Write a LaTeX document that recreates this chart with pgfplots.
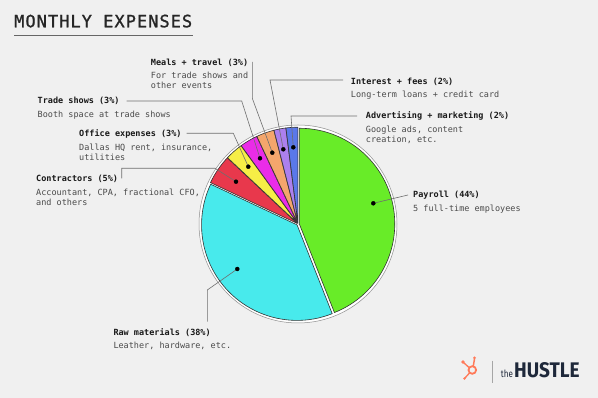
\documentclass[border=0pt]{standalone}
\usepackage{fontspec}
\usepackage{graphicx}
\usepackage{pgfplots}
\usepackage{pgfplotstable}
\pgfplotsset{compat=1.18}
\setmainfont{DejaVu Sans Mono}
\newfontfamily\titlefont[LetterSpace=6,FakeBold=1.2]{DejaVu Sans Mono}
\newfontfamily\logofont{Fira Sans}
\definecolor{paper}{RGB}{240,240,240}
\definecolor{pc0}{RGB}{104,236,40}
\definecolor{pc1}{RGB}{72,234,236}
\definecolor{pc2}{RGB}{232,56,76}
\definecolor{pc3}{RGB}{246,238,70}
\definecolor{pc4}{RGB}{234,44,232}
\definecolor{pc5}{RGB}{244,166,108}
\definecolor{pc6}{RGB}{172,128,238}
\definecolor{pc7}{RGB}{90,120,234}
\definecolor{desc}{RGB}{74,74,74}
\definecolor{lead}{RGB}{110,110,110}
\definecolor{navy}{RGB}{30,40,58}
\definecolor{hsorange}{RGB}{255,122,89}

% percentages, clockwise from 12 o'clock
\pgfplotstableread{
label pct
Payroll 44
Raw 38
Contractors 5
Office 3
Trade 3
Meals 3
Interest 2
Advertising 2
}\piedata

\begin{document}
\begin{tikzpicture}
\begin{axis}[width=598pt,height=398pt,scale only axis,
  xmin=0,xmax=598,ymin=0,ymax=398,hide axis,clip=false]
\fill[paper] (axis cs:0,0) rectangle (axis cs:598,398);

% title
\node[anchor=base west,inner sep=0,text=black!85,font=\titlefont\fontsize{17}{20}\selectfont] at (axis cs:14,370.7) {MONTHLY EXPENSES};
\addplot[black!60,line width=0.8pt] coordinates {(14,362.3)(193.3,362.3)};

% pie
\fill[white,draw=black!45,line width=0.5pt] (axis cs:298,174) circle[radius=99pt];
\def\astart{90}
\pgfplotsforeachungrouped \i in {0,...,7}{%
  \pgfplotstablegetelem{\i}{pct}\of\piedata
  \pgfmathsetmacro\sweep{\pgfplotsretval*3.6}%
  \pgfmathsetmacro\aend{\astart-\sweep}%
  \pgfmathsetmacro\amid{(\astart+\aend)/2}%
  \edef\temp{\noexpand\filldraw[fill=pc\i,draw=black!80,line width=0.6pt,shift={(\amid:1.3pt)}] (axis cs:298,174) -- ++(\astart:95.5pt) arc[start angle=\astart,end angle=\aend,radius=95.5pt] -- cycle;}%
  \temp
  \global\let\astart\aend
}

% leader lines
\addplot[lead,line width=0.6pt] coordinates {(373.3,194.7)(408,203)};
\addplot[lead,line width=0.6pt] coordinates {(237.3,129)(207.3,108)(207.3,76.3)};
\addplot[lead,line width=0.6pt] coordinates {(236,216.3)(215,229.7)(121.7,229.7)(121.7,219.7)};
\addplot[lead,line width=0.6pt] coordinates {(248.3,231.3)(233.3,264.7)(186.7,264.7)};
\addplot[lead,line width=0.6pt] coordinates {(260,239.7)(241.7,297)(126.7,297)};
\addplot[lead,line width=0.6pt] coordinates {(272.3,245.3)(252.3,299.7)(252.3,336)};
\addplot[lead,line width=0.6pt] coordinates {(283.3,248.7)(270,318)(343,318)};
\addplot[lead,line width=0.6pt] coordinates {(293.3,250.7)(291,282)(357,282)};

% dots
\addplot[only marks,mark=*,mark size=2pt,black] coordinates {
(373.3,194.7)(237.3,129)(236,216.3)(248.3,231.3)(260,239.7)(272.3,245.3)(283.3,248.7)(293.3,250.7)};

% labels
\tikzset{lt/.style={anchor=base west,inner sep=0,text=black!90,font=\fontsize{8.5}{10}\selectfont\bfseries},
         ld/.style={anchor=base west,inner sep=0,text=desc,font=\fontsize{8.5}{10}\selectfont}}
\node[lt] at (axis cs:150.7,332.7) {Meals + travel (3\%)};
\node[ld] at (axis cs:150.7,319.3) {For trade shows and};
\node[ld] at (axis cs:150.7,309.3) {other events};

\node[lt] at (axis cs:350.7,313.3) {Interest + fees (2\%)};
\node[ld] at (axis cs:350.7,300.7) {Long-term loans + credit card};

\node[lt] at (axis cs:365.7,279) {Advertising + marketing (2\%)};
\node[ld] at (axis cs:365.7,265) {Google ads, content};
\node[ld] at (axis cs:365.7,255) {creation, etc.};

\node[lt] at (axis cs:37.5,294) {Trade shows (3\%)};
\node[ld] at (axis cs:37.5,280) {Booth space at trade shows};

\node[lt] at (axis cs:79,261.7) {Office expenses (3\%)};
\node[ld] at (axis cs:79,247.7) {Dallas HQ rent, insurance,};
\node[ld] at (axis cs:79,237.7) {utilities};

\node[lt] at (axis cs:36,216.7) {Contractors (5\%)};
\node[ld] at (axis cs:36,202.3) {Accountant, CPA, fractional CFO,};
\node[ld] at (axis cs:36,192.3) {and others};

\node[lt] at (axis cs:413,200.7) {Payroll (44\%)};
\node[ld] at (axis cs:413,186.7) {5 full-time employees};

\node[lt] at (axis cs:113.3,62.3) {Raw materials (38\%)};
\node[ld] at (axis cs:113.3,49) {Leather, hardware, etc.};

% logo
\draw[hsorange,line width=1.8pt] (axis cs:472.3,28) circle[radius=3.8pt];
\draw[hsorange,line width=1.5pt] (axis cs:473.3,32) -- (axis cs:474.5,39);
\fill[hsorange] (axis cs:474.5,40) circle[radius=1.5pt];
\draw[hsorange,line width=1.3pt] (axis cs:469,30.5) -- (axis cs:463.5,35.5);
\fill[hsorange] (axis cs:463,36) circle[radius=1.8pt];
\draw[hsorange,line width=1.3pt] (axis cs:469.5,25) -- (axis cs:465,20);
\fill[hsorange] (axis cs:464.5,19.5) circle[radius=1.3pt];
\addplot[black!35,line width=0.7pt] coordinates {(492.7,37.3)(492.7,15)};
\node[anchor=south west,inner sep=0,text=navy] at (axis cs:500.7,19.7) {\resizebox{12pt}{7.5pt}{\logofont the}};
\node[anchor=south west,inner sep=0,text=navy] at (axis cs:514,19.7) {\resizebox{65.5pt}{15pt}{\logofont\bfseries HUSTLE}};
\end{axis}
\end{tikzpicture}
\end{document}
